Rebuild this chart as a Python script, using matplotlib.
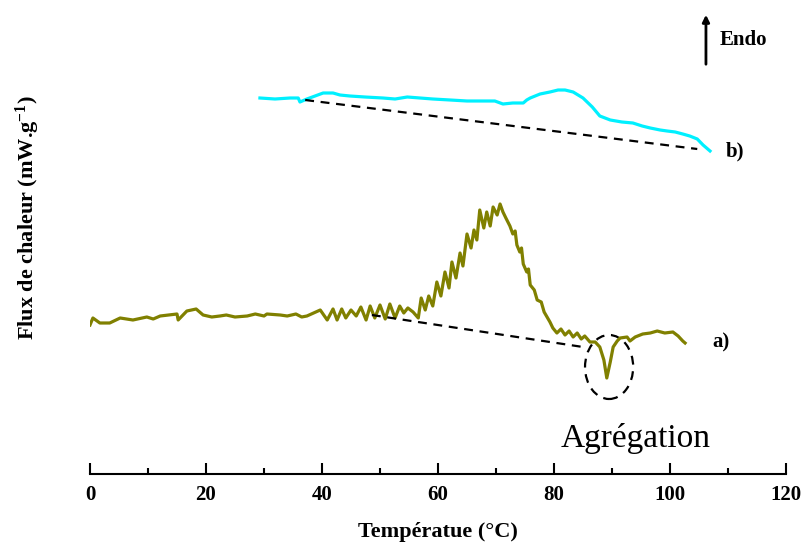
import matplotlib
matplotlib.use("Agg")
import matplotlib.pyplot as plt
from matplotlib.patches import Ellipse
from matplotlib.ticker import MultipleLocator

plt.rcParams['font.family'] = ['Liberation Serif', 'DejaVu Serif']
plt.rcParams['mathtext.fontset'] = 'custom'
plt.rcParams['mathtext.rm'] = 'Liberation Serif:bold'
plt.rcParams['mathtext.it'] = 'Liberation Serif:bold'
plt.rcParams['mathtext.bf'] = 'Liberation Serif:bold'

# curve a) (olive) : temperature (°C), heat flow (arbitrary units)
temp_a = [0.0, 0.5, 1.7, 3.4, 5.2, 7.4, 9.8, 10.9, 12.1, 15.0, 15.2, 16.7, 18.3, 19.5,
          21.0, 22.4, 23.5, 25.0, 27.1, 28.5, 30.0, 30.5, 32.8, 34.0, 35.5, 36.5, 37.4,
          39.7, 40.9, 41.9, 42.6, 43.4, 44.1, 45.0, 45.9, 46.7, 47.6, 48.3, 49.1, 50.0,
          50.9, 51.7, 52.6, 53.4, 54.1, 54.8, 55.7, 56.6, 57.1, 57.8, 58.4, 59.1, 59.8,
          60.5, 61.2, 61.9, 62.4, 63.1, 63.8, 64.3, 65.0, 65.7, 66.2, 66.7, 67.2, 67.9,
          68.4, 69.0, 69.5, 70.2, 70.7, 71.2, 71.7, 72.4, 72.9, 73.3, 73.6, 74.1, 74.4,
          74.7, 75.3, 75.6, 75.9, 76.6, 77.1, 77.8, 78.3, 78.8, 79.3, 79.8, 80.5, 81.2,
          81.9, 82.6, 83.3, 84.0, 84.7, 85.3, 86.2, 87.1, 87.9, 88.6, 89.1, 89.7, 90.2,
          90.9, 91.4, 92.6, 93.1, 94.0, 95.3, 96.6, 97.8, 99.1, 100.5, 101.4, 102.2, 102.6]
flux_a = [149, 156, 151, 151, 156, 154, 157, 155, 158, 160, 154, 163, 165, 159,
          157, 158, 159, 157, 158, 160, 158, 160, 159, 158, 160, 157, 158,
          164, 154, 165, 154, 165, 156, 164, 158, 167, 154, 168, 156, 169,
          155, 170, 156, 168, 161, 166, 162, 156, 176, 164, 178, 168, 192,
          178, 202, 186, 212, 196, 221, 208, 240, 226, 244, 234, 264, 246,
          262, 248, 267, 259, 270, 262, 256, 248, 240, 243, 229, 222, 226,
          210, 202, 205, 189, 184, 174, 172, 162, 157, 152, 146, 141, 145,
          139, 143, 137, 141, 135, 138, 132, 132, 127, 114, 96, 112, 127,
          133, 136, 137, 133, 137, 140, 141, 143, 141, 142, 138, 133, 131]

# curve b) (cyan)
temp_b = [29.3, 31.9, 34.5, 35.9, 36.2, 37.4, 38.8, 40.2, 41.9, 43.1, 44.8, 47.4, 50.5,
          52.6, 54.7, 56.9, 59.1, 62.1, 65.0, 67.2, 69.8, 71.2, 72.9, 74.7, 75.3, 75.9,
          77.6, 79.3, 80.7, 81.9, 83.3, 85.0, 86.6, 87.9, 89.7, 91.7, 93.6, 95.2, 96.6,
          98.3, 99.5, 100.9, 102.2, 103.4, 104.7, 105.7, 106.9]
flux_b = [376, 375, 376, 376, 372, 375, 378, 381, 381, 379, 378, 377, 376,
          375, 377, 376, 375, 374, 373, 373, 373, 370, 371, 371, 374, 376,
          380, 382, 384, 384, 382, 376, 367, 358, 354, 352, 351, 348, 346,
          344, 343, 342, 340, 338, 335, 329, 323]

# baselines
base_a_t = [48.6, 85.0]
base_a_f = [159, 127]
base_b_t = [37.1, 104.7]
base_b_f = [374, 325]

fig = plt.figure(figsize=(8.01, 5.43), dpi=100)
ax = fig.add_axes([90 / 801, 69 / 543, 696 / 801, 474 / 543])

ax.plot(temp_a, flux_a, color='#808000', linewidth=2.3)
ax.plot(temp_b, flux_b, color='#00F0FF', linewidth=2.3)
ax.plot(base_a_t, base_a_f, color='black', linestyle=(0, (4, 3)), linewidth=1.6)
ax.plot(base_b_t, base_b_f, color='black', linestyle=(0, (4, 3)), linewidth=1.6)

ax.add_patch(Ellipse((89.5, 107), 8.3, 64, fill=False, edgecolor='black',
                     linestyle=(0, (4, 3)), linewidth=1.6))
ax.text(94.0, 36, 'Agrégation', fontsize=24, ha='center', va='center')

ax.text(107.3, 132, 'a)', fontsize=15, fontweight='bold', va='center')
ax.text(109.6, 323, 'b)', fontsize=15, fontweight='bold', va='center')

ax.annotate('', xy=(106.2, 462), xytext=(106.2, 407),
            arrowprops=dict(arrowstyle='-|>', color='black', lw=2, mutation_scale=10))
ax.text(108.6, 434, 'Endo', fontsize=15, fontweight='bold', va='center')

ax.set_xlim(0, 120)
ax.set_ylim(0, 474)
for s in ['left', 'right', 'top']:
    ax.spines[s].set_visible(False)
ax.spines['bottom'].set_linewidth(1.5)
ax.set_yticks([])
ax.xaxis.set_major_locator(MultipleLocator(20))
ax.xaxis.set_minor_locator(MultipleLocator(10))
ax.tick_params(axis='x', which='major', direction='in', length=8, width=1.5,
               labelsize=15, pad=8)
ax.tick_params(axis='x', which='minor', direction='in', length=4, width=1.5)
for lab in ax.get_xticklabels():
    lab.set_fontweight('bold')

ax.set_xlabel('Températue (°C)', fontsize=16, fontweight='bold', labelpad=12)
fig.text(28 / 801, 1 - 218 / 543, r'Flux de chaleur (mW.g$^{-1}$)', rotation=90,
         fontsize=16, fontweight='bold', ha='center', va='center')

fig.savefig('out.png', dpi=100)
